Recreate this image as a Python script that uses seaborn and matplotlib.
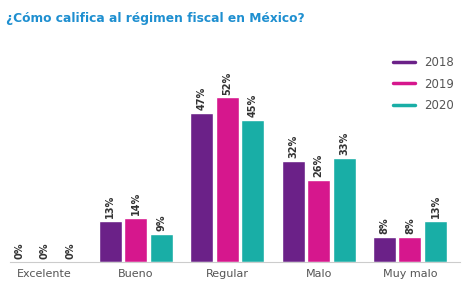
import pandas as pd
import matplotlib.pyplot as plt
import seaborn as sns
from matplotlib.lines import Line2D

categories = ["Excelente", "Bueno", "Regular", "Malo", "Muy malo"]
years = ["2018", "2019", "2020"]
v2018 = [0, 13, 47, 32, 8]
v2019 = [0, 14, 52, 26, 8]
v2020 = [0, 9, 45, 33, 13]
colors = ["#6b2188", "#d6178d", "#19aea6"]

df = pd.DataFrame({
    "cat": categories * 3,
    "year": [y for y in years for _ in categories],
    "val": v2018 + v2019 + v2020,
})

sns.set_style("white")
fig = plt.figure(figsize=(4.71, 2.89), dpi=100)
ax = fig.add_axes([0.021, 0.093, 0.956, 0.751])

sns.barplot(df, x="cat", y="val", hue="year", palette=colors, width=0.84, gap=0.1,
            saturation=1, legend=False, ax=ax)

for cont, vals in zip(ax.containers, [v2018, v2019, v2020]):
    ax.bar_label(cont, labels=[f"{v}%" for v in vals], rotation=90, padding=2,
                 fontsize=7, fontweight="bold", color="#333333")

ax.set_xlim(-0.38, 4.55)
ax.set_ylim(0, 68.5)
ax.set_xlabel(None)
ax.set_ylabel(None)
ax.set_yticks([])
ax.tick_params(axis="x", length=0, labelsize=8, labelcolor="#555555", pad=5)
for s in ["top", "right", "left"]:
    ax.spines[s].set_visible(False)
ax.spines["bottom"].set_color("#cccccc")
ax.spines["bottom"].set_linewidth(0.8)

handles = [Line2D([0], [0], color=c, lw=2.5) for c in colors]
ax.legend(handles, years, loc="upper right", bbox_to_anchor=(1.01, 1.0), frameon=False,
          fontsize=8.5, handlelength=1.8, labelspacing=0.75, labelcolor="#555555")

fig.text(0.012, 0.925, "¿Cómo califica al régimen fiscal en México?", fontsize=8.8,
         fontweight="bold", color="#1e8fd0")

fig.savefig("out.png", dpi=100)
